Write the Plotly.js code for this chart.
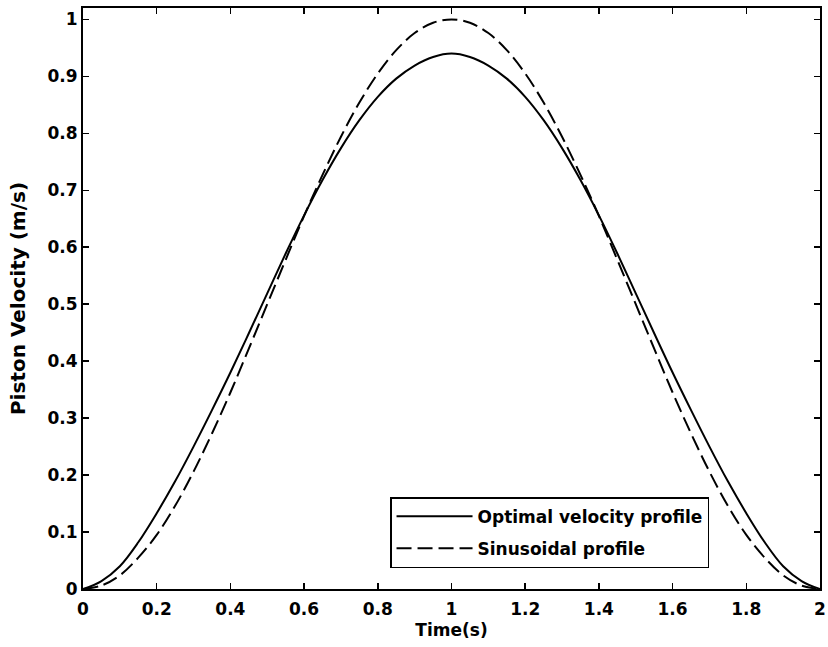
<!DOCTYPE html>
<html>
<head>
<meta charset="utf-8">
<script src="https://cdn.plot.ly/plotly-3.0.1.min.js"></script>
<style>
  html, body { margin: 0; padding: 0; background: #ffffff; }
  #chart { width: 828px; height: 647px; }
</style>
</head>
<body>
<div id="chart"></div>
<script>
// Time samples (s)
const time = [0, 0.05, 0.1, 0.15, 0.2, 0.25, 0.3, 0.35, 0.4, 0.45, 0.5,
              0.55, 0.6, 0.65, 0.7, 0.75, 0.8, 0.85, 0.9, 0.95, 1.0,
              1.05, 1.1, 1.15, 1.2, 1.25, 1.3, 1.35, 1.4, 1.45, 1.5,
              1.55, 1.6, 1.65, 1.7, 1.75, 1.8, 1.85, 1.9, 1.95, 2.0];

// Optimal velocity profile (m/s)
const optimalVelocity = [0, 0.014, 0.04, 0.082, 0.133, 0.189, 0.25, 0.314, 0.38, 0.449, 0.519,
                         0.589, 0.656, 0.718, 0.774, 0.823, 0.864, 0.896, 0.919, 0.934, 0.94,
                         0.934, 0.919, 0.896, 0.864, 0.823, 0.774, 0.718, 0.656, 0.589, 0.519,
                         0.449, 0.38, 0.314, 0.25, 0.189, 0.133, 0.082, 0.04, 0.014, 0];

// Sinusoidal profile (m/s)
const sinusoidalVelocity = [0, 0.006, 0.024, 0.055, 0.095, 0.146, 0.206, 0.273, 0.345, 0.422, 0.5,
                            0.578, 0.655, 0.727, 0.794, 0.854, 0.905, 0.946, 0.976, 0.994, 1.0,
                            0.994, 0.976, 0.946, 0.905, 0.854, 0.794, 0.727, 0.655, 0.578, 0.5,
                            0.422, 0.345, 0.273, 0.206, 0.146, 0.095, 0.055, 0.024, 0.006, 0];

const seriesNames = ['Optimal velocity profile', 'Sinusoidal profile'];
const xTicks = [0, 0.2, 0.4, 0.6, 0.8, 1, 1.2, 1.4, 1.6, 1.8, 2];
const yTicks = [0, 0.1, 0.2, 0.3, 0.4, 0.5, 0.6, 0.7, 0.8, 0.9, 1];

const font = { family: 'DejaVu Sans, Liberation Sans, Arial, sans-serif', size: 17, color: '#000', weight: 'bold' };
const yTitleFont = Object.assign({}, font, { size: 20 });

const traces = [
  {
    x: time, y: optimalVelocity, name: seriesNames[0], legendgroup: 'opt',
    type: 'scatter', mode: 'lines',
    line: { color: '#000', width: 2, shape: 'spline', smoothing: 1 }
  },
  {
    x: time, y: sinusoidalVelocity, name: seriesNames[1], legendgroup: 'sin',
    type: 'scatter', mode: 'lines',
    line: { color: '#000', width: 2, dash: '15px,6px', shape: 'spline', smoothing: 1 }
  }
];

const axisCommon = {
  showgrid: false, zeroline: false,
  showline: true, linecolor: '#000', linewidth: 2,
  mirror: 'ticks', ticks: 'inside', ticklen: 6, tickwidth: 1.5, tickcolor: '#000',
  tickfont: font
};

const layout = {
  width: 828, height: 647,
  margin: { l: 83, r: 8, t: 8, b: 58 },
  paper_bgcolor: '#fff', plot_bgcolor: '#fff',
  font: font,
  showlegend: true,
  legend: {
    x: 0.4166, y: 0.036, xanchor: 'left', yanchor: 'bottom',
    bgcolor: '#fff', bordercolor: '#000', borderwidth: 1.5,
    font: font, traceorder: 'grouped', tracegroupgap: 7,
    itemwidth: 76
  },
  xaxis: Object.assign({}, axisCommon, {
    range: [0, 2], tickvals: xTicks, ticklabelstandoff: 4,
    title: { text: 'Time(s)', font: font, standoff: 6 }
  }),
  yaxis: Object.assign({}, axisCommon, {
    range: [0, 1.02], tickvals: yTicks,
    title: { text: 'Piston Velocity (m/s)', font: yTitleFont, standoff: 16 }
  })
};

Plotly.newPlot('chart', traces, layout, { displayModeBar: false, staticPlot: true });
</script>
</body>
</html>
